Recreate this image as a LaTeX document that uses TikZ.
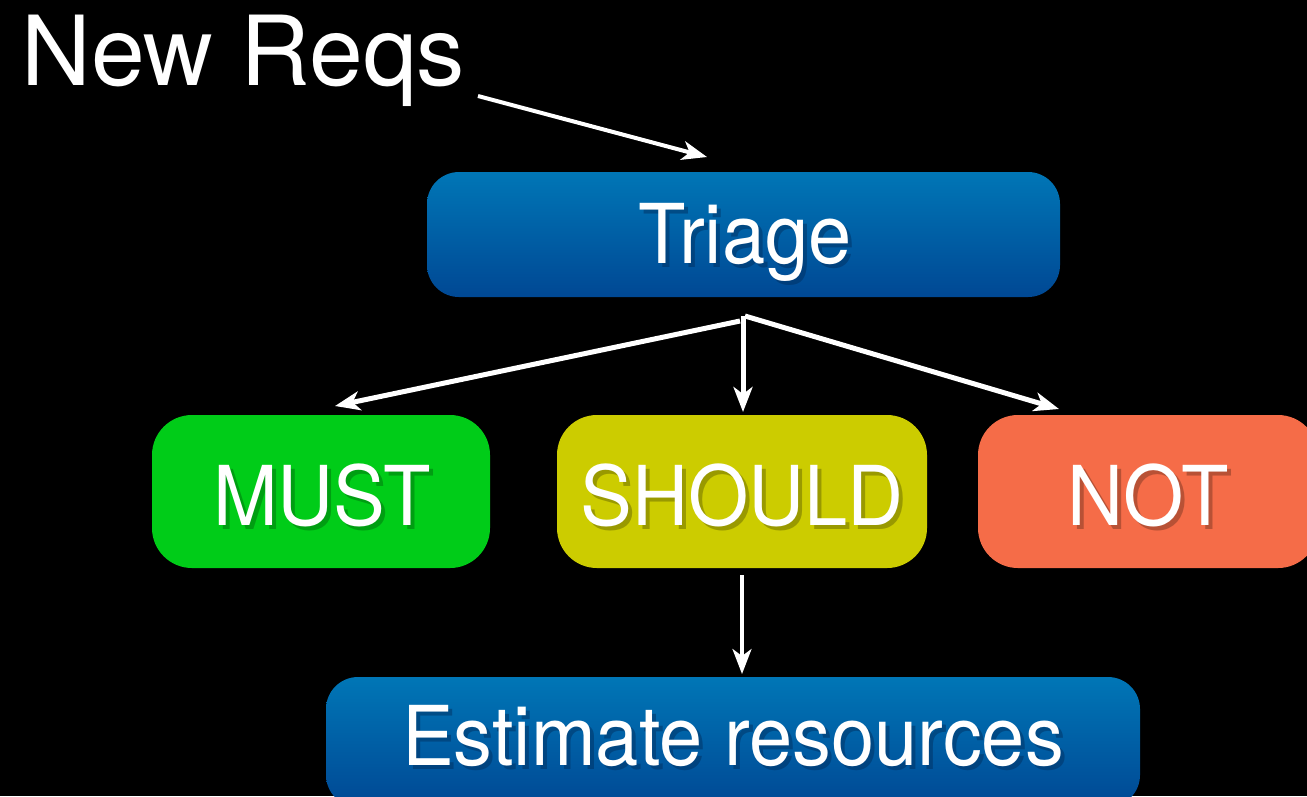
\documentclass[tikz,border=0pt]{standalone}
\usepackage{fontspec}
\setmainfont{TeX Gyre Heros}
\usetikzlibrary{arrows.meta}
\definecolor{triblueT}{RGB}{0,118,182}
\definecolor{triblueB}{RGB}{0,72,148}
\definecolor{mustgreen}{RGB}{0,204,24}
\definecolor{shouldyel}{RGB}{204,204,0}
\definecolor{notorange}{RGB}{245,108,72}
\tikzset{
  box/.style={rounded corners=32*0.02cm, inner sep=0pt, draw=none},
  bluebox/.style={box, top color=triblueT, bottom color=triblueB},
  boxtxt/.style={text=white, font=\fontsize{47}{56}\selectfont, inner sep=0pt, anchor=base, xscale=0.94},
  shadowtxt/.style={boxtxt, text=#1, opacity=0.45},
  arr/.style={draw=white, line width=#1, -{Stealth[length=0.5cm, width=0.38cm, inset=0.14cm]}},
}
\begin{document}
\begin{tikzpicture}[x=0.02cm, y=-0.02cm]
\useasboundingbox (0,0) rectangle (1307,796);
\fill[black] (0,0) rectangle (1307,796);
\clip (0,0) rectangle (1307,796);

% title
\node[text=white, font=\fontsize{55}{60}\selectfont, anchor=base west, inner sep=0pt] (newreqs) at (21,85) {New Reqs};

% boxes
\node[bluebox, minimum width=633*0.02cm, minimum height=125*0.02cm] (triage) at (743.5,234.5) {};
\node[box, fill=mustgreen, minimum width=338*0.02cm, minimum height=153*0.02cm, rounded corners=40*0.02cm] (must) at (321,491.5) {};
\node[box, fill=shouldyel, minimum width=370*0.02cm, minimum height=153*0.02cm, rounded corners=40*0.02cm] (should) at (742,491.5) {};
\node[box, fill=notorange, minimum width=340*0.02cm, minimum height=153*0.02cm, rounded corners=40*0.02cm] (not) at (1148,491.5) {};
\node[bluebox, minimum width=814*0.02cm, minimum height=130*0.02cm] (estimate) at (733,742) {};

% texts with shadows
\node[shadowtxt=triblueB!60!black] at (749,267) {Triage};
\node[boxtxt] (triagetxt) at (745,263) {Triage};
\node[shadowtxt=mustgreen!50!black] at (326,529) {MUST};
\node[boxtxt] (musttxt) at (322,525) {MUST};
\node[shadowtxt=shouldyel!45!black] at (746,529) {SHOULD};
\node[boxtxt] (shouldtxt) at (742,525) {SHOULD};
\node[shadowtxt=notorange!45!black] at (1152,529) {NOT};
\node[boxtxt] (nottxt) at (1148,525) {NOT};
\node[shadowtxt=triblueB!60!black] at (737,769) {Estimate resources};
\node[boxtxt] (estimatetxt) at (733,765) {Estimate resources};

% connector coordinates
\coordinate (nrstart) at (478,96);
\coordinate (nrtip) at (707,157);
\coordinate (splitL) at (740,321);
\coordinate (split) at (743,316);
\coordinate (splitR) at (745,316);
\coordinate (musttip) at (335,406);
\coordinate (shouldtip) at (743,412);
\coordinate (nottip) at (1059,409);
\coordinate (shouldbot) at (742,575);
\coordinate (esttip) at (742,674);

\draw[arr=4*0.02cm] (nrstart) -- (nrtip);
\draw[arr=5*0.02cm] (splitL) -- (musttip);
\draw[arr=5*0.02cm] (split) -- (shouldtip);
\draw[arr=5*0.02cm] (splitR) -- (nottip);
\draw[arr=3.5*0.02cm] (shouldbot) -- (esttip);
\end{tikzpicture}
\end{document}
